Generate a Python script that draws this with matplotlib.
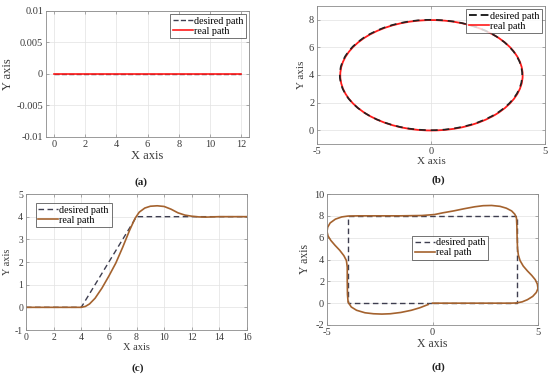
import matplotlib
matplotlib.use("Agg")
import matplotlib.pyplot as plt
from matplotlib.patches import Ellipse
from matplotlib.lines import Line2D

plt.rcParams['font.family'] = ['Liberation Serif', 'DejaVu Serif']
plt.rcParams['axes.unicode_minus'] = False

# ---------------- data ----------------
# (a) straight line
desired_x_a = [0, 12]
desired_y_a = [0, 0]
real_x_a = [0, 12]
real_y_a = [0, 0]

# (b) circle path: centre and radius (data units)
desired_center_b = (0, 4)
desired_radius_b = 4.0
real_center_b = (0.02, 3.98)
real_radius_b = 4.0

# (c) ramp
desired_x_c = [0, 4, 8, 16]
desired_y_c = [0, 0, 4, 4]
real_x_c = [0, 4.0, 4.3, 4.6, 5.0, 5.5, 6.0, 6.5, 7.0, 7.5, 7.9, 8.2, 8.6,
            9.0, 9.5, 10.0, 10.5, 11.0, 11.5, 12.0, 12.5, 13.0, 14.0, 16.0]
real_y_c = [0, 0, 0.04, 0.15, 0.4, 0.85, 1.38, 1.95, 2.65, 3.4, 3.93, 4.2, 4.38,
            4.46, 4.48, 4.45, 4.33, 4.17, 4.07, 4.02, 3.99, 3.98, 4.0, 4.0]

# (d) rectangle
desired_x_d = [0, 4, 4, -4, -4, 0]
desired_y_d = [0, 0, 8, 8, 0, 0]
real_x_d = [0, 1, 2, 3, 3.7, 3.98, 4.25, 4.5, 4.75, 4.92, 5.0, 4.97, 4.87, 4.7,
            4.5, 4.3, 4.15, 4.07, 4.03, 4.01, 4.0, 3.98, 3.9, 3.75, 3.5, 3.2,
            2.8, 2.4, 2.0, 1.5, 1.0, 0.5, 0.1, -0.5, -1.5, -2.5, -3.5, -4.0,
            -4.3, -4.6, -4.85, -4.97, -5.0, -4.95, -4.82, -4.62, -4.4, -4.2,
            -4.08, -4.04, -4.04, -4.03, -4.0, -3.85, -3.6, -3.2, -2.8, -2.4,
            -2.0, -1.5, -1.0, -0.6, -0.2]
real_y_d = [0, 0, 0, 0, 0, 0.02, 0.12, 0.32, 0.62, 0.98, 1.35, 1.75, 2.15, 2.55,
            2.95, 3.4, 3.9, 4.4, 5.0, 6.0, 7.0, 7.8, 8.15, 8.45, 8.7, 8.87,
            8.95, 8.93, 8.83, 8.65, 8.45, 8.28, 8.12, 8.03, 8.0, 8.0, 8.0, 7.98,
            7.9, 7.7, 7.35, 6.95, 6.55, 6.15, 5.75, 5.3, 4.85, 4.35, 3.9, 3.3,
            2.0, 0.8, 0.1, -0.35, -0.65, -0.88, -0.97, -1.0, -0.97, -0.85,
            -0.65, -0.42, -0.12]

xticks_a = [0, 2, 4, 6, 8, 10, 12]
yticks_a = [-0.01, -0.005, 0, 0.005, 0.01]
yticklabels_a = ['-0.01', '-0.005', '0', '0.005', '0.01']
xticks_b = [-5, 0, 5]
yticks_b = [0, 2, 4, 6, 8]
xticks_c = [0, 2, 4, 6, 8, 10, 12, 14, 16]
yticks_c = [-1, 0, 1, 2, 3, 4, 5]
xticks_d = [-5, 0, 5]
yticks_d = [-2, 0, 2, 4, 6, 8, 10]

RED = '#ff1a1a'
BROWN = '#a4622e'
DARK = '#3e3e50'
TICKC = '#3a3a3a'

fig = plt.figure(figsize=(5.5, 3.75), dpi=100)


def style(ax, fs=7.5):
    ax.grid(True, color='#e2e2e2', lw=0.5)
    ax.set_axisbelow(True)
    for s in ax.spines.values():
        s.set_color('#8a8a8a')
        s.set_linewidth(0.6)
    ax.tick_params(direction='in', length=2, width=0.5, colors='#8a8a8a',
                   labelcolor=TICKC, labelsize=fs, top=True, right=True, pad=2)


def legend(ax, handles, **kw):
    lg = ax.legend(handles=handles, labels=['desired path', 'real path'],
                   fontsize=7.3, frameon=True, fancybox=False,
                   handlelength=2.0, handletextpad=0.1, borderpad=0.25,
                   labelspacing=0.1, borderaxespad=0.3, **kw)
    lg.get_frame().set_edgecolor('#333333')
    lg.get_frame().set_linewidth(0.6)
    return lg


# (a)
axa = fig.add_axes([46/550, 1-137/375, 203/550, 126/375])
axa.plot(desired_x_a, desired_y_a, '--', color=DARK, lw=1.0)
axa.plot(real_x_a, real_y_a, '-', color=RED, lw=1.2)
axa.set_xlim(-0.5, 12.5)
axa.set_ylim(-0.01, 0.01)
axa.set_xticks(xticks_a)
axa.set_yticks(yticks_a)
axa.set_yticklabels(yticklabels_a)
style(axa)
axa.set_xlabel('X axis', fontsize=9, color=TICKC, labelpad=1)
axa.set_ylabel('Y axis', fontsize=9, color=TICKC, labelpad=2)
legend(axa, [Line2D([], [], ls='--', color=DARK, lw=1.0),
             Line2D([], [], color=RED, lw=1.2)], loc='upper right')

# (b)
axb = fig.add_axes([317/550, 1-144/375, 228/550, 138/375])
axb.add_patch(Ellipse(real_center_b, 2*real_radius_b, 2*real_radius_b,
                      fill=False, edgecolor=RED, lw=1.3))
axb.add_patch(Ellipse(desired_center_b, 2*desired_radius_b, 2*desired_radius_b,
                      fill=False, edgecolor='#222222', lw=1.2, ls=(0, (4, 3))))
axb.set_xlim(-5, 5)
axb.set_ylim(-1, 9)
axb.set_xticks(xticks_b)
axb.set_yticks(yticks_b)
style(axb)
axb.set_xlabel('X axis', fontsize=8, color=TICKC, labelpad=1)
axb.set_ylabel('Y axis', fontsize=8, color=TICKC, labelpad=2)
legend(axb, [Line2D([], [], ls=(0, (4, 2)), color='#222222', lw=1.4),
             Line2D([], [], color=RED, lw=1.2)], loc='upper right')

# (c)
axc = fig.add_axes([26/550, 1-330/375, 221/550, 136/375])
axc.plot(desired_x_c, desired_y_c, ls=(0, (4, 2.5)), color=DARK, lw=1.0)
axc.plot(real_x_c, real_y_c, '-', color=BROWN, lw=1.2)
axc.set_xlim(0, 16)
axc.set_ylim(-1, 5)
axc.set_xticks(xticks_c)
axc.set_yticks(yticks_c)
style(axc, fs=7)
axc.set_xlabel('X axis', fontsize=7.5, color=TICKC, labelpad=1)
axc.set_ylabel('Y axis', fontsize=7.5, color=TICKC, labelpad=2)
legend(axc, [Line2D([], [], ls=(0, (4, 2.5)), color=DARK, lw=1.0),
             Line2D([], [], color=BROWN, lw=1.2)], loc='upper left',
       bbox_to_anchor=(0.03, 0.955))

# (d)
axd = fig.add_axes([327/550, 1-325/375, 211/550, 131/375])
axd.plot(desired_x_d, desired_y_d, ls=(0, (4, 2.5)), color=DARK, lw=1.0)
axd.plot(real_x_d, real_y_d, '-', color=BROWN, lw=1.2)
axd.set_xlim(-5, 5)
axd.set_ylim(-2, 10)
axd.set_xticks(xticks_d)
axd.set_yticks(yticks_d)
style(axd)
axd.set_xlabel('X axis', fontsize=8.5, color=TICKC, labelpad=1)
axd.set_ylabel('Y axis', fontsize=8.5, color=TICKC, labelpad=2)
legend(axd, [Line2D([], [], ls=(0, (4, 2.5)), color=DARK, lw=1.0),
             Line2D([], [], color=BROWN, lw=1.2)], loc='upper left',
       bbox_to_anchor=(0.39, 0.705))

# captions
for x, y, t in [(141, 182, '(a)'), (438, 180, '(b)'), (138, 368, '(c)'),
                (438, 367, '(d)')]:
    fig.text(x/550, 1-y/375, t, ha='center', va='center', fontsize=8,
             fontweight='bold', color='#222222')

fig.savefig('out.png', dpi=100)
